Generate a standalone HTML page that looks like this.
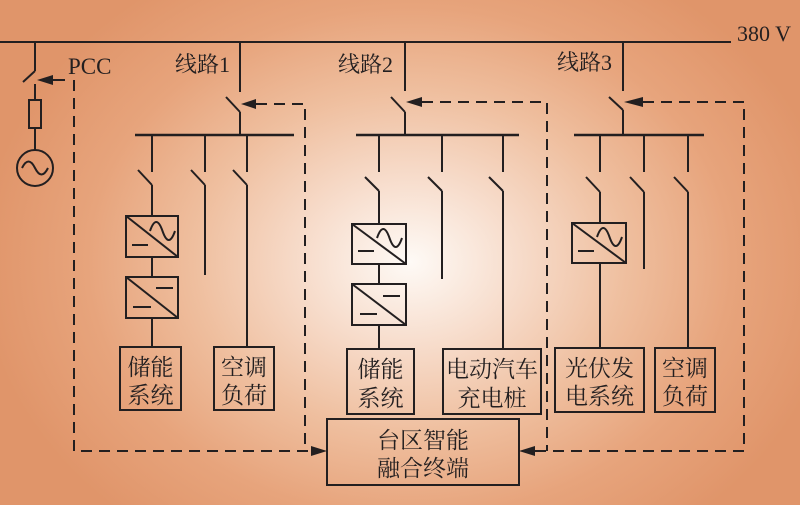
<!DOCTYPE html>
<html><head><meta charset="utf-8"><style>
html,body{margin:0;padding:0;}
body{width:800px;height:505px;overflow:hidden;
background:radial-gradient(ellipse 430px 340px at 410px 262px,#fefaf6 0%,#f7dccb 25%,#efbf9f 50%,#e7a47c 75%,#e0956a 100%);}
svg{position:absolute;left:0;top:0;}
text{fill:#231f20;}
.cn{font-family:"Liberation Serif","Noto Serif CJK SC",serif;font-size:23px;}
.lb{font-family:"Liberation Serif","Noto Serif CJK SC",serif;font-size:22px;}
</style></head><body>
<svg width="800" height="505" viewBox="0 0 800 505" xmlns="http://www.w3.org/2000/svg">
<g stroke="#231f20" stroke-width="2" fill="none">
<!-- main bus -->
<line x1="0" y1="42" x2="731" y2="42"/>
<!-- PCC -->
<line x1="35" y1="42" x2="35" y2="71"/>
<line x1="35" y1="71" x2="23" y2="82"/>
<line x1="35" y1="84" x2="35" y2="100"/>
<rect x="29" y="100" width="12" height="28"/>
<line x1="35" y1="128" x2="35" y2="150"/>
<circle cx="35" cy="168" r="18"/>
<path d="M22 168 q6.5 -13 13 0 t13 0"/>
<line x1="52" y1="80" x2="65" y2="80"/>

<!-- Line 1 -->
<line x1="240" y1="42" x2="240" y2="92"/>
<line x1="226" y1="97" x2="240" y2="112"/>
<line x1="240" y1="112" x2="240" y2="135"/>
<line x1="135" y1="135" x2="294" y2="135" stroke-width="2.5"/>
<line x1="152" y1="135" x2="152" y2="172"/>
<line x1="205" y1="135" x2="205" y2="172"/>
<line x1="247" y1="135" x2="247" y2="172"/>
<line x1="138" y1="170" x2="152" y2="185"/>
<line x1="191" y1="170" x2="205" y2="185"/>
<line x1="233" y1="170" x2="247" y2="185"/>
<line x1="152" y1="185" x2="152" y2="216"/>
<rect x="126" y="216" width="52" height="41"/>
<line x1="126" y1="216" x2="178" y2="257"/>
<path d="M150 231 q6.25 -18 12.5 0 t12.5 0"/>
<line x1="132" y1="245" x2="148" y2="245"/>
<line x1="152" y1="257" x2="152" y2="277"/>
<rect x="126" y="277" width="52" height="41"/>
<line x1="126" y1="277" x2="178" y2="318"/>
<line x1="156" y1="288" x2="173" y2="288"/>
<line x1="133" y1="307" x2="151" y2="307"/>
<line x1="152" y1="318" x2="152" y2="347"/>
<rect x="120" y="347" width="61" height="63"/>
<line x1="205" y1="185" x2="205" y2="275"/>
<line x1="247" y1="185" x2="247" y2="347"/>
<rect x="214" y="347" width="60" height="63"/>

<!-- Line 2 -->
<line x1="405" y1="42" x2="405" y2="91"/>
<line x1="391" y1="97" x2="405" y2="112"/>
<line x1="405" y1="112" x2="405" y2="135"/>
<line x1="356" y1="135" x2="519" y2="135" stroke-width="2.5"/>
<line x1="379" y1="135" x2="379" y2="172"/>
<line x1="442" y1="135" x2="442" y2="172"/>
<line x1="503" y1="135" x2="503" y2="172"/>
<line x1="365" y1="177" x2="379" y2="191"/>
<line x1="428" y1="177" x2="442" y2="191"/>
<line x1="489" y1="177" x2="503" y2="191"/>
<line x1="379" y1="191" x2="379" y2="224"/>
<rect x="352" y="224" width="54" height="40"/>
<line x1="352" y1="224" x2="406" y2="264"/>
<path d="M377 238 q6.25 -18 12.5 0 t12.5 0"/>
<line x1="358" y1="251" x2="374" y2="251"/>
<line x1="379" y1="264" x2="379" y2="284"/>
<rect x="352" y="284" width="54" height="41"/>
<line x1="352" y1="284" x2="406" y2="325"/>
<line x1="383" y1="296" x2="400" y2="296"/>
<line x1="360" y1="314" x2="377" y2="314"/>
<line x1="379" y1="325" x2="379" y2="349"/>
<rect x="347" y="349" width="67" height="65"/>
<line x1="442" y1="191" x2="442" y2="279"/>
<line x1="503" y1="191" x2="503" y2="349"/>
<rect x="443" y="349" width="98" height="65"/>

<!-- Line 3 -->
<line x1="623" y1="42" x2="623" y2="91"/>
<line x1="609" y1="97" x2="623" y2="110"/>
<line x1="623" y1="110" x2="623" y2="135"/>
<line x1="574" y1="135" x2="704" y2="135" stroke-width="2.5"/>
<line x1="600" y1="135" x2="600" y2="172"/>
<line x1="644" y1="135" x2="644" y2="172"/>
<line x1="688" y1="135" x2="688" y2="172"/>
<line x1="586" y1="177" x2="600" y2="192"/>
<line x1="630" y1="177" x2="644" y2="192"/>
<line x1="674" y1="177" x2="688" y2="192"/>
<line x1="600" y1="192" x2="600" y2="223"/>
<rect x="572" y="223" width="54" height="40"/>
<line x1="572" y1="223" x2="626" y2="263"/>
<path d="M597 237 q6.25 -18 12.5 0 t12.5 0"/>
<line x1="578" y1="251" x2="594" y2="251"/>
<line x1="600" y1="263" x2="600" y2="348"/>
<rect x="555" y="348" width="89" height="64"/>
<line x1="644" y1="192" x2="644" y2="269"/>
<line x1="688" y1="192" x2="688" y2="348"/>
<rect x="655" y="348" width="60" height="64"/>

<!-- terminal box -->
<rect x="327" y="419" width="192" height="66"/>

<!-- dashed control lines -->
<g stroke-dasharray="11 7">
<path d="M74 80 V451 H312"/>
<path d="M256 104 H305 V451"/>
<path d="M422 102 H547 V451"/>
<path d="M643 102 H744 V451 H535"/>
</g>
</g>

<!-- arrowheads -->
<g fill="#231f20">
<polygon points="37,80 53,75 53,85"/>
<polygon points="241,104 256,99 256,109"/>
<polygon points="406,102 422,97 422,107"/>
<polygon points="624,102 643,97 643,107"/>
<polygon points="327,451 311,446 311,456"/>
<polygon points="519,451 535,446 535,456"/>
</g>

<!-- labels -->
<text x="737" y="41" style="font-family:'Liberation Serif',serif;font-size:22px">380 V</text>
<text x="68" y="74" style="font-family:'Liberation Serif',serif;font-size:23px">PCC</text>
<text x="175" y="72" class="lb">线路1</text>
<text x="338" y="72" class="lb">线路2</text>
<text x="557" y="70" class="lb">线路3</text>

<g class="cn" text-anchor="middle">
<text x="150.5" y="375">储能</text>
<text x="150.5" y="403">系统</text>
<text x="244" y="375">空调</text>
<text x="244" y="403">负荷</text>
<text x="380.5" y="377">储能</text>
<text x="380.5" y="406">系统</text>
<text x="492" y="377">电动汽车</text>
<text x="492" y="406">充电桩</text>
<text x="599.5" y="376">光伏发</text>
<text x="599.5" y="404">电系统</text>
<text x="685" y="376">空调</text>
<text x="685" y="404">负荷</text>
<text x="423" y="448">台区智能</text>
<text x="423" y="476">融合终端</text>
</g>
</svg>
</body></html>
